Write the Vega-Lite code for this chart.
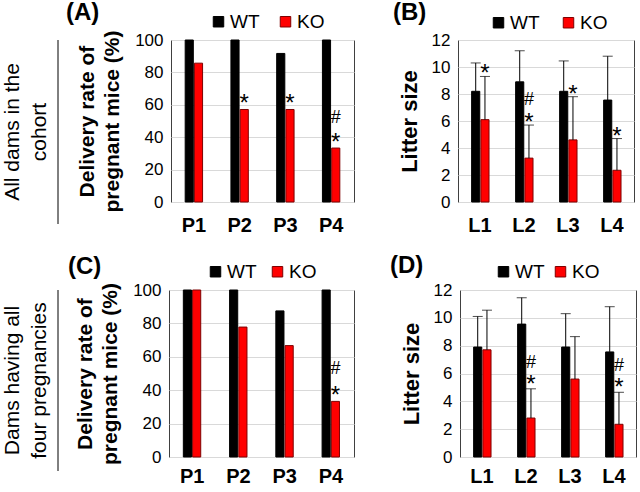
{
  "$schema": "https://vega.github.io/schema/vega-lite/v6.json",
  "background": "white",
  "padding": {"left": 1, "top": 0, "right": 0, "bottom": 0},
  "config": {
    "font": "Liberation Sans",
    "view": {"stroke": "#404040", "strokeWidth": 1},
    "axis": {"ticks": false, "domain": false, "gridColor": "#d9d9d9", "labelColor": "#000000", "titleColor": "#000000", "labelOverlap": false},
    "axisY": {"labelOverlap": false},
    "axisQuantitative": {"labelOverlap": false},
    "legend": {"labelColor": "#000000"},
    "title": {"color": "#000000"}
  },
  "datasets": {
    "rateAll": [
      {"p": "P1", "g": "WT", "value": 100, "sig": ""},
      {"p": "P1", "g": "KO", "value": 85.7, "sig": ""},
      {"p": "P2", "g": "WT", "value": 100, "sig": ""},
      {"p": "P2", "g": "KO", "value": 57.1, "sig": "*"},
      {"p": "P3", "g": "WT", "value": 91.7, "sig": ""},
      {"p": "P3", "g": "KO", "value": 57.1, "sig": "*"},
      {"p": "P4", "g": "WT", "value": 100, "sig": ""},
      {"p": "P4", "g": "KO", "value": 33.3, "sig": "#*"}
    ],
    "rateFour": [
      {"p": "P1", "g": "WT", "value": 100, "sig": ""},
      {"p": "P1", "g": "KO", "value": 100, "sig": ""},
      {"p": "P2", "g": "WT", "value": 100, "sig": ""},
      {"p": "P2", "g": "KO", "value": 77.8, "sig": ""},
      {"p": "P3", "g": "WT", "value": 87.5, "sig": ""},
      {"p": "P3", "g": "KO", "value": 66.7, "sig": ""},
      {"p": "P4", "g": "WT", "value": 100, "sig": ""},
      {"p": "P4", "g": "KO", "value": 33.3, "sig": "#*"}
    ],
    "litterAll": [
      {"l": "L1", "g": "WT", "value": 8.2, "upper": 10.3, "sig": ""},
      {"l": "L1", "g": "KO", "value": 6.1, "upper": 9.3, "sig": "*"},
      {"l": "L2", "g": "WT", "value": 8.9, "upper": 11.2, "sig": ""},
      {"l": "L2", "g": "KO", "value": 3.25, "upper": 5.7, "sig": "#*"},
      {"l": "L3", "g": "WT", "value": 8.2, "upper": 10.45, "sig": ""},
      {"l": "L3", "g": "KO", "value": 4.6, "upper": 7.8, "sig": "*"},
      {"l": "L4", "g": "WT", "value": 7.55, "upper": 10.8, "sig": ""},
      {"l": "L4", "g": "KO", "value": 2.35, "upper": 4.7, "sig": "*"}
    ],
    "litterFour": [
      {"l": "L1", "g": "WT", "value": 7.9, "upper": 10.1, "sig": ""},
      {"l": "L1", "g": "KO", "value": 7.7, "upper": 10.55, "sig": ""},
      {"l": "L2", "g": "WT", "value": 9.55, "upper": 11.45, "sig": ""},
      {"l": "L2", "g": "KO", "value": 2.8, "upper": 4.9, "sig": "#*"},
      {"l": "L3", "g": "WT", "value": 7.9, "upper": 10.3, "sig": ""},
      {"l": "L3", "g": "KO", "value": 5.6, "upper": 8.65, "sig": ""},
      {"l": "L4", "g": "WT", "value": 7.55, "upper": 10.8, "sig": ""},
      {"l": "L4", "g": "KO", "value": 2.35, "upper": 4.65, "sig": "#*"}
    ]
  },
  "resolve": {"scale": {"x": "independent", "y": "independent", "color": "independent", "stroke": "independent"}, "legend": {"color": "independent", "stroke": "independent"}},
  "spacing": 17,
  "vconcat": [
    {
      "spacing": 37,
      "resolve": {"scale": {"x": "independent", "y": "independent", "color": "independent", "stroke": "independent"}, "legend": {"color": "independent", "stroke": "independent"}},
      "hconcat": [
        {
          "spacing": 6,
          "resolve": {"scale": {"x": "independent", "y": "independent", "color": "independent", "stroke": "independent"}, "legend": {"color": "independent", "stroke": "independent"}},
          "hconcat": [
            {
              "width": 1, "height": 184,
              "view": {"stroke": null},
              "data": {"values": [{"a": 0}]},
              "title": {"text": ["All dams in the", "cohort"], "orient": "left", "anchor": "middle", "fontSize": 21, "fontWeight": "normal", "lineHeight": 27, "offset": 8},
              "mark": {"type": "rule", "color": "#000000", "strokeWidth": 1},
              "encoding": {"x": {"datum": 0, "type": "quantitative", "scale": {"domain": [0, 1]}, "axis": null}}
            },
            {
              "width": 183, "height": 162,
              "data": {"name": "rateAll"},
              "title": {"text": "(A)", "anchor": "start", "frame": "group", "fontSize": 24, "fontWeight": "bold", "dx": -105, "offset": -13},
              "encoding": {
                "x": {"field": "p", "type": "nominal", "title": null, "scale": {"paddingInner": 0.62, "paddingOuter": 0.31}, "axis": {"labelAngle": 0, "labelFontSize": 20, "labelFontWeight": "bold", "labelPadding": 13, "grid": false}},
                "xOffset": {"field": "g", "type": "nominal", "sort": ["WT", "KO"], "scale": {"paddingInner": 0.12}},
                "y": {"field": "value", "type": "quantitative", "scale": {"domain": [0, 100]}, "axis": {"values": [0, 20, 40, 60, 80, 100], "labelOverlap": false, "title": ["Delivery rate of", "pregnant mice (%)"], "titleFontSize": 21, "titleFontWeight": "bold", "titleLineHeight": 25, "labelFontSize": 17, "labelPadding": 8, "titlePadding": 12}}
              },
              "layer": [
                {
                  "mark": {"type": "bar", "strokeWidth": 1},
                  "encoding": {
                    "color": {"field": "g", "type": "nominal", "sort": ["WT", "KO"], "scale": {"domain": ["WT", "KO"], "range": ["#000000", "#ff0000"]}, "legend": {"title": null, "orient": "none", "legendX": 38, "legendY": -28, "direction": "horizontal", "symbolType": "square", "symbolSize": 110, "labelFontSize": 19, "labelOffset": 2, "columnPadding": 16, "symbolStrokeColor": "#7f0000", "symbolStrokeWidth": 1}},
                    "stroke": {"field": "g", "type": "nominal", "scale": {"domain": ["WT", "KO"], "range": ["#000000", "#7f0000"]}, "legend": null}
                  }
                },
                {
                  "transform": [{"filter": "indexof(datum.sig, '*') >= 0"}],
                  "mark": {"type": "text", "text": "*", "fontSize": 24, "baseline": "alphabetic", "dy": 2, "color": "#000000"}
                },
                {
                  "transform": [{"filter": "indexof(datum.sig, '#') >= 0"}],
                  "mark": {"type": "text", "text": "#", "fontSize": 18, "baseline": "alphabetic", "dy": -25, "color": "#000000"}
                }
              ]
            }
          ]
        },
        {
          "width": 176, "height": 162,
          "data": {"name": "litterAll"},
          "title": {"text": "(B)", "anchor": "start", "frame": "group", "fontSize": 24, "fontWeight": "bold", "dx": -65, "offset": -12},
          "encoding": {
            "x": {"field": "l", "type": "nominal", "title": null, "scale": {"paddingInner": 0.62, "paddingOuter": 0.31}, "axis": {"labelAngle": 0, "labelFontSize": 20, "labelFontWeight": "bold", "labelPadding": 13, "grid": false}},
            "xOffset": {"field": "g", "type": "nominal", "sort": ["WT", "KO"], "scale": {"paddingInner": 0.12}},
            "y": {"field": "value", "type": "quantitative", "scale": {"domain": [0, 12]}, "axis": {"values": [0, 2, 4, 6, 8, 10, 12], "labelOverlap": false, "title": "Litter size", "titleFontSize": 22, "titleFontWeight": "bold", "labelFontSize": 17, "labelPadding": 8, "titlePadding": 10}}
          },
          "layer": [
            {
              "mark": {"type": "bar", "strokeWidth": 1},
              "encoding": {
                "color": {"field": "g", "type": "nominal", "sort": ["WT", "KO"], "scale": {"domain": ["WT", "KO"], "range": ["#000000", "#ff0000"]}, "legend": {"title": null, "orient": "none", "legendX": 31, "legendY": -27, "direction": "horizontal", "symbolType": "square", "symbolSize": 110, "labelFontSize": 19, "labelOffset": 2, "columnPadding": 19, "symbolStrokeColor": "#7f0000", "symbolStrokeWidth": 1}},
                "stroke": {"field": "g", "type": "nominal", "scale": {"domain": ["WT", "KO"], "range": ["#000000", "#7f0000"]}, "legend": null}
              }
            },
            {
              "mark": {"type": "rule", "color": "#000000", "strokeWidth": 1},
              "encoding": {"y2": {"field": "upper"}}
            },
            {
              "mark": {"type": "tick", "color": "#000000", "thickness": 1, "size": 10, "orient": "horizontal"},
              "encoding": {"y": {"field": "upper", "type": "quantitative", "axis": {"values": [0, 2, 4, 6, 8, 10, 12], "labelOverlap": false, "title": "Litter size", "titleFontSize": 22, "titleFontWeight": "bold", "labelFontSize": 17, "labelPadding": 8, "titlePadding": 10}}}
            },
            {
              "transform": [{"filter": "indexof(datum.sig, '*') >= 0"}],
              "mark": {"type": "text", "text": "*", "fontSize": 24, "baseline": "alphabetic", "dy": 5, "color": "#000000"},
              "encoding": {"y": {"field": "upper", "type": "quantitative", "axis": {"values": [0, 2, 4, 6, 8, 10, 12], "labelOverlap": false, "title": "Litter size", "titleFontSize": 22, "titleFontWeight": "bold", "labelFontSize": 17, "labelPadding": 8, "titlePadding": 10}}}
            },
            {
              "transform": [{"filter": "indexof(datum.sig, '#') >= 0"}],
              "mark": {"type": "text", "text": "#", "fontSize": 18, "baseline": "alphabetic", "dy": -20, "color": "#000000"},
              "encoding": {"y": {"field": "upper", "type": "quantitative", "axis": {"values": [0, 2, 4, 6, 8, 10, 12], "labelOverlap": false, "title": "Litter size", "titleFontSize": 22, "titleFontWeight": "bold", "labelFontSize": 17, "labelPadding": 8, "titlePadding": 10}}}
            }
          ]
        }
      ]
    },
    {
      "spacing": 34,
      "resolve": {"scale": {"x": "independent", "y": "independent", "color": "independent", "stroke": "independent"}, "legend": {"color": "independent", "stroke": "independent"}},
      "hconcat": [
        {
          "spacing": 8,
          "resolve": {"scale": {"x": "independent", "y": "independent", "color": "independent", "stroke": "independent"}, "legend": {"color": "independent", "stroke": "independent"}},
          "hconcat": [
            {
              "width": 1, "height": 181,
              "view": {"stroke": null},
              "data": {"values": [{"a": 0}]},
              "title": {"text": ["Dams having all", "four pregnancies"], "orient": "left", "anchor": "middle", "fontSize": 21, "fontWeight": "normal", "lineHeight": 27, "offset": 8},
              "mark": {"type": "rule", "color": "#000000", "strokeWidth": 1},
              "encoding": {"x": {"datum": 0, "type": "quantitative", "scale": {"domain": [0, 1]}, "axis": null}}
            },
            {
              "width": 185, "height": 167,
              "data": {"name": "rateFour"},
              "title": {"text": "(C)", "anchor": "start", "frame": "group", "fontSize": 24, "fontWeight": "bold", "dx": -101, "offset": -17},
              "encoding": {
                "x": {"field": "p", "type": "nominal", "title": null, "scale": {"paddingInner": 0.62, "paddingOuter": 0.31}, "axis": {"labelAngle": 0, "labelFontSize": 20, "labelFontWeight": "bold", "labelPadding": 9, "grid": false}},
                "xOffset": {"field": "g", "type": "nominal", "sort": ["WT", "KO"], "scale": {"paddingInner": 0.12}},
                "y": {"field": "value", "type": "quantitative", "scale": {"domain": [0, 100]}, "axis": {"values": [0, 20, 40, 60, 80, 100], "labelOverlap": false, "title": ["Delivery rate of", "pregnant mice (%)"], "titleFontSize": 21, "titleFontWeight": "bold", "titleLineHeight": 25, "labelFontSize": 17, "labelPadding": 8, "titlePadding": 12}}
              },
              "layer": [
                {
                  "mark": {"type": "bar", "strokeWidth": 1},
                  "encoding": {
                    "color": {"field": "g", "type": "nominal", "sort": ["WT", "KO"], "scale": {"domain": ["WT", "KO"], "range": ["#000000", "#ff0000"]}, "legend": {"title": null, "orient": "none", "legendX": 37, "legendY": -28, "direction": "horizontal", "symbolType": "square", "symbolSize": 110, "labelFontSize": 19, "labelOffset": 2, "columnPadding": 11, "symbolStrokeColor": "#7f0000", "symbolStrokeWidth": 1}},
                    "stroke": {"field": "g", "type": "nominal", "scale": {"domain": ["WT", "KO"], "range": ["#000000", "#7f0000"]}, "legend": null}
                  }
                },
                {
                  "transform": [{"filter": "indexof(datum.sig, '*') >= 0"}],
                  "mark": {"type": "text", "text": "*", "fontSize": 24, "baseline": "alphabetic", "dy": 2, "color": "#000000"}
                },
                {
                  "transform": [{"filter": "indexof(datum.sig, '#') >= 0"}],
                  "mark": {"type": "text", "text": "#", "fontSize": 18, "baseline": "alphabetic", "dy": -27, "color": "#000000"}
                }
              ]
            }
          ]
        },
        {
          "width": 176, "height": 167,
          "data": {"name": "litterFour"},
          "title": {"text": "(D)", "anchor": "start", "frame": "group", "fontSize": 24, "fontWeight": "bold", "dx": -70, "offset": -16},
          "encoding": {
            "x": {"field": "l", "type": "nominal", "title": null, "scale": {"paddingInner": 0.62, "paddingOuter": 0.31}, "axis": {"labelAngle": 0, "labelFontSize": 20, "labelFontWeight": "bold", "labelPadding": 9, "grid": false}},
            "xOffset": {"field": "g", "type": "nominal", "sort": ["WT", "KO"], "scale": {"paddingInner": 0.12}},
            "y": {"field": "value", "type": "quantitative", "scale": {"domain": [0, 12]}, "axis": {"values": [0, 2, 4, 6, 8, 10, 12], "labelOverlap": false, "title": "Litter size", "titleFontSize": 22, "titleFontWeight": "bold", "labelFontSize": 17, "labelPadding": 8, "titlePadding": 10}}
          },
          "layer": [
            {
              "mark": {"type": "bar", "strokeWidth": 1},
              "encoding": {
                "color": {"field": "g", "type": "nominal", "sort": ["WT", "KO"], "scale": {"domain": ["WT", "KO"], "range": ["#000000", "#ff0000"]}, "legend": {"title": null, "orient": "none", "legendX": 34, "legendY": -28, "direction": "horizontal", "symbolType": "square", "symbolSize": 110, "labelFontSize": 19, "labelOffset": 2, "columnPadding": 6, "symbolStrokeColor": "#7f0000", "symbolStrokeWidth": 1}},
                "stroke": {"field": "g", "type": "nominal", "scale": {"domain": ["WT", "KO"], "range": ["#000000", "#7f0000"]}, "legend": null}
              }
            },
            {
              "mark": {"type": "rule", "color": "#000000", "strokeWidth": 1},
              "encoding": {"y2": {"field": "upper"}}
            },
            {
              "mark": {"type": "tick", "color": "#000000", "thickness": 1, "size": 10, "orient": "horizontal"},
              "encoding": {"y": {"field": "upper", "type": "quantitative", "axis": {"values": [0, 2, 4, 6, 8, 10, 12], "labelOverlap": false, "title": "Litter size", "titleFontSize": 22, "titleFontWeight": "bold", "labelFontSize": 17, "labelPadding": 8, "titlePadding": 10}}}
            },
            {
              "transform": [{"filter": "indexof(datum.sig, '*') >= 0"}],
              "mark": {"type": "text", "text": "*", "fontSize": 24, "baseline": "alphabetic", "dy": 3, "color": "#000000"},
              "encoding": {"y": {"field": "upper", "type": "quantitative", "axis": {"values": [0, 2, 4, 6, 8, 10, 12], "labelOverlap": false, "title": "Litter size", "titleFontSize": 22, "titleFontWeight": "bold", "labelFontSize": 17, "labelPadding": 8, "titlePadding": 10}}}
            },
            {
              "transform": [{"filter": "indexof(datum.sig, '#') >= 0"}],
              "mark": {"type": "text", "text": "#", "fontSize": 18, "baseline": "alphabetic", "dy": -21, "color": "#000000"},
              "encoding": {"y": {"field": "upper", "type": "quantitative", "axis": {"values": [0, 2, 4, 6, 8, 10, 12], "labelOverlap": false, "title": "Litter size", "titleFontSize": 22, "titleFontWeight": "bold", "labelFontSize": 17, "labelPadding": 8, "titlePadding": 10}}}
            }
          ]
        }
      ]
    }
  ]
}
